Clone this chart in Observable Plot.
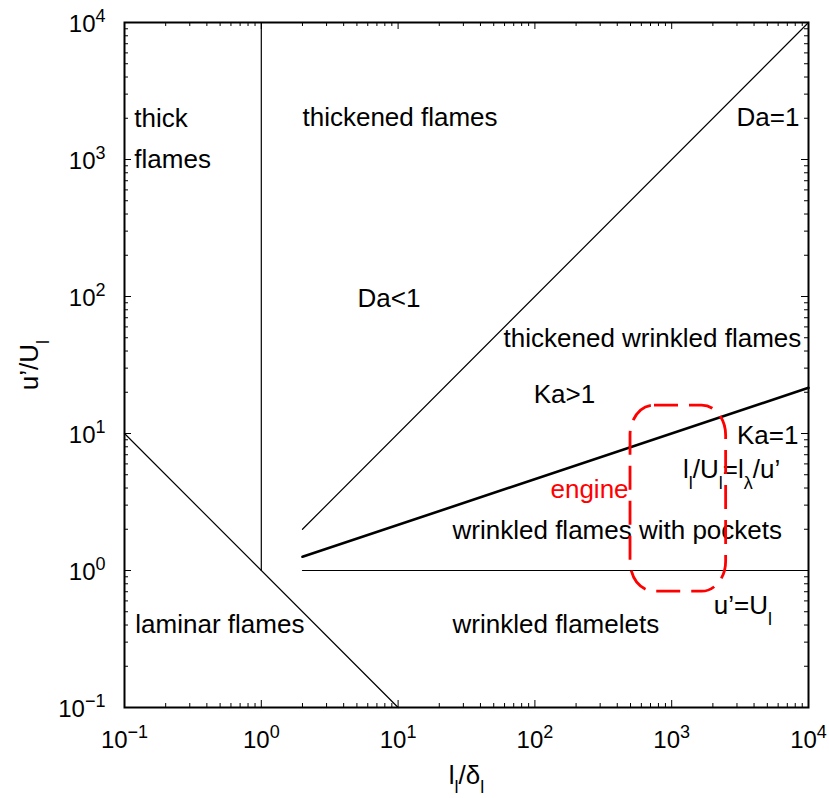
<!DOCTYPE html>
<html>
<head>
<meta charset="utf-8">
<script src="https://cdn.jsdelivr.net/npm/d3@7"></script>
<script src="https://cdn.jsdelivr.net/npm/@observablehq/plot@0.6"></script>
<style>
  html, body { margin: 0; padding: 0; background: #fff; }
  #chart { width: 829px; height: 798px; }
</style>
</head>
<body>
<div id="chart"></div>
<script>
// Regime diagram of premixed turbulent combustion (log–log)

// Axis decades and tick labels
const decades = [0.1, 1, 10, 100, 1000, 10000];
const decadeLabels = ["10^{−1}", "10^{0}", "10^{1}", "10^{2}", "10^{3}", "10^{4}"];
const minorSteps = [2, 3, 4, 5, 6, 7, 8, 9];

// Regime boundaries (l/δ, u'/U)
const laminarX = [0.1, 10];      // Re = 1
const laminarY = [10, 0.1];
const thickX = [1, 1];           // l = δ
const thickY = [1, 10000];
const damkX = [2, 10000];        // Da = 1
const damkY = [2, 10000];
const karlX = [2, 10000];        // Ka = 1
const karlY = [1.26, 21.54];
const unityX = [2, 10000];       // u' = U
const unityY = [1, 1];

// Operating window of the engine
const engineX = [500, 2500];
const engineY = [0.7, 16];

// Region annotations (left end of baseline, in data units)
const labelText = [
  "thick", "flames", "thickened flames", "Da=1", "Da<1",
  "thickened wrinkled flames", "Ka>1", "Ka=1", "l_{l}/U_{l}=l_{λ}/u’",
  "wrinkled flames with pockets", "u’=U_{l}", "laminar flames", "wrinkled flamelets"
];
const labelX = [0.118, 0.118, 2.0, 2980, 5.05, 59, 98, 3000, 1210, 25, 2030, 0.12, 25];
const labelY = [1713, 860, 1745, 1745, 84.5, 42.5, 16.8, 8.45, 4.77, 1.71, 0.485, 0.347, 0.347];
const engineLabel = ["engine"];
const engineLabelX = [130];
const engineLabelY = [3.41];

const xTitle = ["l_{l}/δ_{l}"];
const yTitle = ["u’/U_{l}"];

// Layout
const W = 829, H = 798;
const mL = 124, mR = 21, mT = 22, mB = 91;
const innerW = W - mL - mR, innerH = H - mT - mB;
const MAJOR = 7, MINOR = 4;

const minorTicks = decades.slice(0, -1).flatMap(d => minorSteps.map(s => s * d));
const seg = (xs, ys) => xs.map((x, i) => ({x, y: ys[i]}));

const chart = Plot.plot({
  width: W,
  height: H,
  marginLeft: mL,
  marginRight: mR,
  marginTop: mT,
  marginBottom: mB,
  style: {fontFamily: "'Liberation Sans', Arial, Helvetica, sans-serif", background: "#fff", color: "#000", overflow: "visible"},
  x: {type: "log", domain: [0.1, 10000], label: null},
  y: {type: "log", domain: [0.1, 10000], label: null},
  marks: [
    // inward ticks on all four sides
    Plot.ruleX(decades, {insetTop: innerH - MAJOR, stroke: "#000", strokeWidth: 1}),
    Plot.ruleX(decades, {insetBottom: innerH - MAJOR, stroke: "#000", strokeWidth: 1}),
    Plot.ruleX(minorTicks, {insetTop: innerH - MINOR, stroke: "#000", strokeWidth: 1}),
    Plot.ruleX(minorTicks, {insetBottom: innerH - MINOR, stroke: "#000", strokeWidth: 1}),
    Plot.ruleY(decades, {insetRight: innerW - MAJOR, stroke: "#000", strokeWidth: 1}),
    Plot.ruleY(decades, {insetLeft: innerW - MAJOR, stroke: "#000", strokeWidth: 1}),
    Plot.ruleY(minorTicks, {insetRight: innerW - MINOR, stroke: "#000", strokeWidth: 1}),
    Plot.ruleY(minorTicks, {insetLeft: innerW - MINOR, stroke: "#000", strokeWidth: 1}),
    Plot.frame({stroke: "#000", strokeWidth: 2}),

    Plot.axisX({
      ticks: decades, tickSize: 0, tickPadding: 23, fontSize: 24, label: null,
      tickFormat: d => decadeLabels[decades.indexOf(d)]
    }),
    Plot.axisY({
      ticks: decades, tickSize: 0, tickPadding: 19, fontSize: 24, label: null, dy: 2,
      tickFormat: d => decadeLabels[decades.indexOf(d)]
    }),

    // regime boundaries
    Plot.line(seg(laminarX, laminarY), {x: "x", y: "y", stroke: "#000", strokeWidth: 1.2}),
    Plot.line(seg(thickX, thickY), {x: "x", y: "y", stroke: "#000", strokeWidth: 1.2}),
    Plot.line(seg(damkX, damkY), {x: "x", y: "y", stroke: "#000", strokeWidth: 1.2}),
    Plot.line(seg(unityX, unityY), {x: "x", y: "y", stroke: "#000", strokeWidth: 1.2}),
    Plot.line(seg(karlX, karlY), {x: "x", y: "y", stroke: "#000", strokeWidth: 2.6}),

    // region names
    Plot.text(labelText, {
      x: labelX, y: labelY, text: d => d,
      textAnchor: "start", lineAnchor: "bottom", fontSize: 26, fill: "#000"
    }),
    Plot.text(engineLabel, {
      x: engineLabelX, y: engineLabelY, text: d => d,
      textAnchor: "start", lineAnchor: "bottom", fontSize: 26, fill: "#ff0000"
    }),

    // engine window
    Plot.rect([0], {
      x1: engineX[0], x2: engineX[1], y1: engineY[0], y2: engineY[1],
      fill: "none", stroke: "#ff0000", strokeWidth: 2.8,
      strokeDasharray: "24,11", rx: 24, ry: 30
    }),

    // axis titles, centred on the frame
    Plot.text(xTitle, {text: d => d, frameAnchor: "bottom", dy: 76, lineAnchor: "bottom", fontSize: 26}),
    Plot.text(yTitle, {text: d => d, frameAnchor: "middle", dx: -(innerW / 2 + 87), rotate: -90, lineAnchor: "bottom", fontSize: 26})
  ]
});

// Render _{..} and ^{..} as sub- and superscripts
const SVGNS = "http://www.w3.org/2000/svg";
function richify(el, subShift) {
  const s = el.textContent;
  if (!/[_^]\{/.test(s)) return;
  const parts = [];
  const re = /([_^])\{([^}]*)\}/g;
  let last = 0, m;
  while ((m = re.exec(s))) {
    if (m.index > last) parts.push({t: s.slice(last, m.index), k: ""});
    parts.push({t: m[2], k: m[1]});
    last = re.lastIndex;
  }
  if (last < s.length) parts.push({t: s.slice(last), k: ""});
  el.textContent = "";
  let offset = 0;
  for (const p of parts) {
    const ts = document.createElementNS(SVGNS, "tspan");
    const target = p.k === "_" ? subShift : p.k === "^" ? -10 : 0;
    if (target !== offset) ts.setAttribute("dy", target - offset);
    offset = target;
    if (p.k) ts.setAttribute("font-size", 18);
    ts.textContent = p.t;
    el.appendChild(ts);
  }
}
chart.querySelectorAll("text").forEach(el => {
  const s = el.textContent;
  if (s === yTitle[0]) el.setAttribute("text-anchor", "middle");
  richify(el, s === xTitle[0] ? 9 : 11);
});

document.getElementById("chart").appendChild(chart);
</script>
</body>
</html>
